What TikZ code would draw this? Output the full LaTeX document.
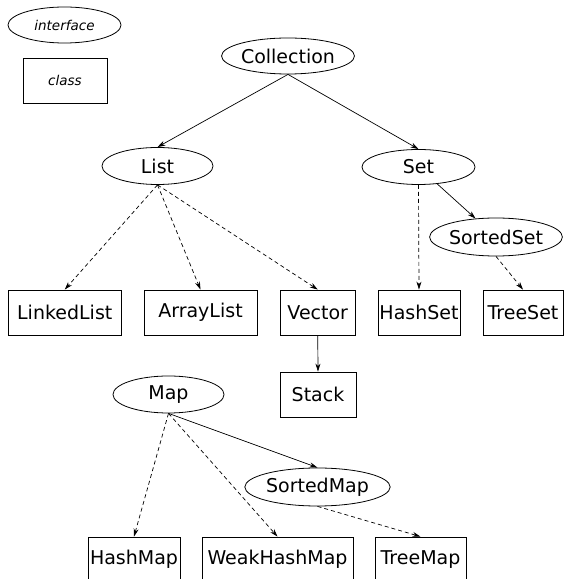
\documentclass[tikz,border=0pt]{standalone}
\usepackage{fontspec,xcolor,tikz}
\setmainfont{DejaVu Sans}
\usetikzlibrary{arrows.meta,shapes.geometric}
\definecolor{ink}{HTML}{000000}
\newcommand{\knoten}{\fontsize{19}{23}\selectfont}
\newcommand{\legende}{\fontsize{13.5}{16}\selectfont\itshape}
\tikzset{schnitt/.style={ellipse,draw=ink,line width=0.8pt,inner sep=0,
    minimum width=112pt,minimum height=36pt,text=ink,font=\knoten},
  klasse/.style={rectangle,draw=ink,line width=0.8pt,inner sep=0,
    minimum height=45pt,text=ink,font=\knoten},
  erbtpfeil/.style={ink,line width=0.7pt,-{Stealth[length=8pt,width=5pt]}},
  implpfeil/.style={erbtpfeil,dash pattern=on 4pt off 3pt}}

\begin{document}
\begin{tikzpicture}[x=1pt,y=1pt]
\useasboundingbox (0,0) rectangle (564,579);
% legende
\node[schnitt,minimum width=113pt,font=\legende] (legschnitt) at (64.5,554) {interface};
\node[klasse,minimum width=84pt,font=\legende] (legklasse) at (65,498.5) {class};
% collection
\node[schnitt] (collection) at (288,523) {Collection};
\node[schnitt,minimum width=111pt,minimum height=37pt] (list) at (157.5,413) {List};
\node[schnitt,minimum width=113pt,minimum height=35pt] (set) at (418.5,412) {Set};
\node[schnitt,minimum width=114pt,minimum height=38pt] (sortedset) at (496,342) {SortedSet};
\node[klasse,minimum width=113pt] (linkedlist) at (64.75,266.5) {LinkedList};
\node[klasse,minimum width=113pt] (arraylist) at (200.5,266.5) {ArrayList};
\node[klasse,minimum width=75pt] (vector) at (317.75,266.5) {Vector};
\node[klasse,minimum width=82pt] (hashset) at (419,266.5) {HashSet};
\node[klasse,minimum width=80pt] (treeset) at (523,266.5) {TreeSet};
\node[klasse,minimum width=76pt] (stack) at (318,184.5) {Stack};
\draw[erbtpfeil] (collection.south) -- (list.north);
\draw[erbtpfeil] (collection.south) -- (set.north);
\draw[implpfeil] (list.south) -- (linkedlist.north);
\draw[implpfeil] (list.south) -- (arraylist.north);
\draw[implpfeil] (list.south) -- (vector.north);
\draw[implpfeil] (set.south) -- (hashset.north);
\draw[erbtpfeil] (set) -- (sortedset);
\draw[implpfeil] (sortedset.south) -- (treeset.north);
\draw[erbtpfeil] (vector.south) -- (stack.north);
% map
\node[schnitt,minimum width=111pt,minimum height=37pt] (map) at (168.5,184.5) {Map};
\node[schnitt,minimum width=111pt,minimum height=38pt] (sortedmap) at (317.5,92) {SortedMap};
\node[klasse,minimum width=92pt] (hashmap) at (134,19.5) {HashMap};
\node[klasse,minimum width=151pt] (weakhashmap) at (277.5,19.5) {WeakHashMap};
\node[klasse,minimum width=91pt] (treemap) at (420.5,19.5) {TreeMap};
\draw[implpfeil] (map.south) -- (hashmap.north);
\draw[implpfeil] (map.south) -- (weakhashmap.north);
\draw[erbtpfeil] (map.south) -- (sortedmap.north);
\draw[implpfeil] (sortedmap.south) -- (treemap.north);
\end{tikzpicture}
\end{document}
